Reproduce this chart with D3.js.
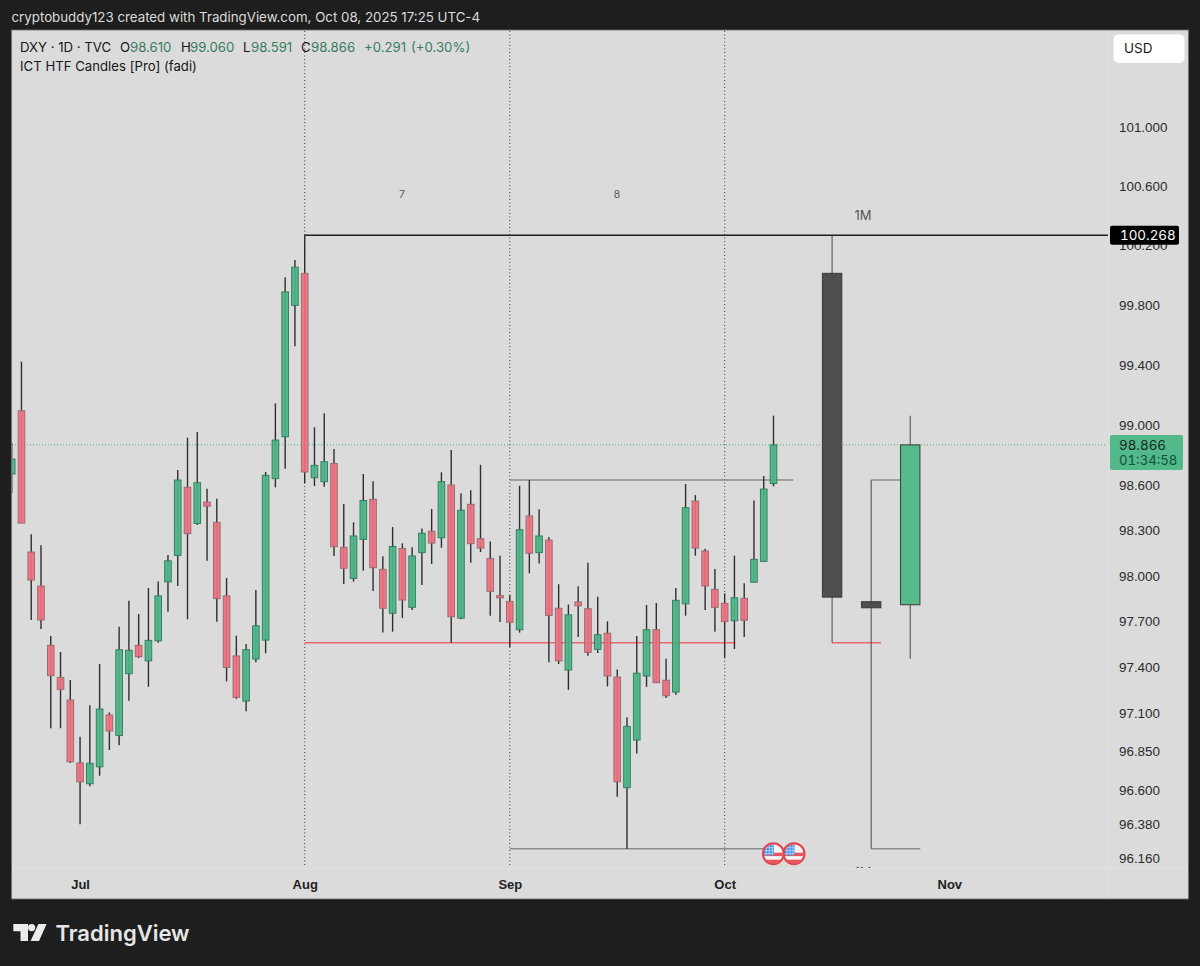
<!DOCTYPE html>
<html>
<head>
<meta charset="utf-8">
<script src="https://cdn.jsdelivr.net/npm/d3@7"></script>
<style>
  html, body { margin: 0; padding: 0; background: #1e1e1e; }
  svg { display: block; font-family: Inter, "Noto Sans", sans-serif; }
  .price-axis text, .price-label { font-variant-numeric: tabular-nums; }
  .price-axis text { font-size: 13.4px; fill: #2b2b2b; }
  .time-axis text { font-size: 13px; font-weight: 600; fill: #222; }
</style>
</head>
<body>
<div id="chart"></div>
<script>
// daily bars, weekdays only, Jun 20 to Oct 8 2025
var dates = [
  "06-20","06-23","06-24","06-25","06-26","06-27","06-30",
  "07-01","07-02","07-03","07-04","07-07","07-08","07-09","07-10","07-11","07-14","07-15","07-16","07-17","07-18","07-21","07-22","07-23","07-24","07-25","07-28","07-29","07-30","07-31",
  "08-01","08-04","08-05","08-06","08-07","08-08","08-11","08-12","08-13","08-14","08-15","08-18","08-19","08-20","08-21","08-22","08-25","08-26","08-27","08-28","08-29",
  "09-01","09-02","09-03","09-04","09-05","09-08","09-09","09-10","09-11","09-12","09-15","09-16","09-17","09-18","09-19","09-22","09-23","09-24","09-25","09-26","09-29","09-30",
  "10-01","10-02","10-03","10-06","10-07","10-08"
]
// empty weekdays on the right, the time axis keeps running
var futureDates = [
  "10-09","10-10","10-13","10-14","10-15","10-16","10-17","10-20","10-21","10-22","10-23","10-24","10-27","10-28","10-29","10-30","10-31","11-03"
]

var opens = [
  98.673,99.093,98.157,97.933,97.544,97.334,97.186,
  96.776,96.641,96.751,97.088,96.954,97.358,97.544,97.442,97.573,97.960,98.135,98.585,98.346,98.487,98.353,97.868,97.474,97.179,97.454,97.578,98.642,98.920,99.797,
  100.012,98.648,98.622,98.743,98.188,97.983,98.241,98.505,98.043,97.754,98.181,97.793,98.153,98.294,98.251,98.600,97.722,98.472,98.245,98.115,97.870,
  97.832,97.646,98.395,98.153,98.236,97.787,97.382,97.828,97.784,97.517,97.623,97.336,96.615,96.925,97.343,97.646,97.315,97.238,97.816,98.494,98.164,97.911,
  97.819,97.705,97.852,97.958,98.095,98.610
]
var highs = [
  98.878,99.420,98.274,98.201,97.605,97.500,97.317,
  96.947,97.152,97.421,97.105,97.666,97.836,97.749,97.920,97.963,98.137,98.699,98.914,98.951,98.575,98.509,97.987,97.607,97.552,97.907,98.686,99.142,99.985,100.101,
  100.268,98.983,99.076,98.838,98.474,98.353,98.673,98.625,98.129,98.322,98.214,98.188,98.313,98.441,98.684,98.832,98.545,98.565,98.734,98.227,98.133,
  97.872,98.595,98.633,98.439,98.256,97.945,97.812,97.931,98.086,97.863,97.701,97.386,97.073,97.605,97.808,97.821,97.456,97.920,98.607,98.533,98.178,98.045,
  97.885,98.133,97.951,98.498,98.660,99.060
]
var lows = [
  98.547,98.348,97.710,97.650,97.002,97.002,96.776,
  96.378,96.624,96.692,96.860,96.891,97.181,97.460,97.272,97.561,97.764,97.933,97.714,98.335,98.099,97.699,97.308,97.193,97.112,97.433,97.492,98.585,98.707,99.524,
  98.611,98.593,98.589,98.131,97.946,97.962,98.034,97.900,97.627,97.633,97.724,97.776,97.940,98.078,98.185,97.561,97.714,98.086,98.157,97.738,97.697,
  97.532,97.627,98.017,98.082,97.433,97.421,97.253,97.598,97.476,97.494,97.275,96.557,96.220,96.838,97.272,97.297,97.199,97.220,97.738,98.133,97.776,97.633,
  97.462,97.519,97.598,97.958,98.095,98.591
]
var closes = [
  98.772,98.348,97.972,97.710,97.345,97.256,96.784,
  96.653,96.774,97.127,96.984,97.515,97.511,97.469,97.576,97.868,98.099,98.633,98.278,98.615,98.460,97.850,97.399,97.204,97.515,97.672,98.664,98.898,99.887,100.053,
  98.686,98.730,98.754,98.192,98.050,98.263,98.498,98.054,97.787,98.194,97.841,98.131,98.281,98.216,98.622,97.731,98.433,98.212,98.183,97.898,97.855,
  97.695,98.304,98.149,98.263,97.740,97.442,97.744,97.803,97.498,97.613,97.343,96.654,97.014,97.361,97.646,97.299,97.214,97.839,98.450,98.183,97.933,97.793,
  97.699,97.856,97.708,98.109,98.573,98.866
]

// monthly candles the indicator projects to the right
var htfDates = ["10-16","10-22","10-28"]
var htfOpens = [100.012, 97.830, 97.810]
var htfHighs = [100.268, 98.633, 99.060]
var htfLows = [97.561, 96.220, 97.455]
var htfCloses = [97.860, 97.790, 98.866]
var htfColors = ["#4a4a4a", "#4a4a4a", "#52b98a"]

var priceTicks = [101, 100.6, 100.2, 99.8, 99.4, 99, 98.6, 98.3, 98, 97.7, 97.4, 97.1, 96.85, 96.6, 96.38, 96.16]
var monthTicks = ["07-01","08-01","09-01","10-01","11-03"]
var monthLabels = ["Jul","Aug","Sep","Oct","Nov"]
var monthLines = ["08-01","09-01","10-01"]

var lastPrice = 98.866
var augHigh = 100.268
var augLow = 97.561
var sepHigh = 98.633
var sepLow = 96.220

var svg = d3.select("#chart").append("svg")
  .attr("width", 1200)
  .attr("height", 966)

// scales
var x = d3.scalePoint()
  .domain(dates.concat(futureDates))
  .range([11.7, 949.3])

var y = d3.scaleLog()
  .domain([101, 96.16])
  .range([127, 858])

// header
svg.append("text")
  .attr("x", 11.5).attr("y", 22)
  .style("font-size", "13.3px")
  .style("fill", "#dcdcdc")
  .text("cryptobuddy123 created with TradingView.com, Oct 08, 2025 17:25 UTC-4")

// panel
svg.append("rect")
  .attr("x", 11.5).attr("y", 30)
  .attr("width", 1177).attr("height", 869)
  .attr("fill", "#dbdbdb")
  .attr("stroke", "#6d6d6d")
  .attr("stroke-width", 0.8)

svg.append("defs").append("clipPath").attr("id", "pane")
  .append("rect")
  .attr("x", 12).attr("y", 31)
  .attr("width", 1096).attr("height", 837.5)

var pane = svg.append("g").attr("clip-path", "url(#pane)")

// faint separators
svg.append("line").attr("x1", 12).attr("x2", 1188).attr("y1", 868.5).attr("y2", 868.5)
  .attr("stroke", "#e2e2e2").attr("stroke-width", 1)
svg.append("line").attr("x1", 1108.5).attr("x2", 1108.5).attr("y1", 31).attr("y2", 898)
  .attr("stroke", "#dfdfdf").attr("stroke-width", 1)

// month dividers
pane.selectAll(".month-line")
  .data(monthLines)
  .enter()
  .append("line")
  .attr("x1", d => x(d)).attr("x2", d => x(d))
  .attr("y1", 31).attr("y2", 867)
  .attr("stroke", "#3d3d3d")
  .attr("stroke-width", 1)
  .attr("stroke-dasharray", "1 2.5")

// current price line
pane.append("line")
  .attr("x1", 12).attr("x2", 1106)
  .attr("y1", y(lastPrice)).attr("y2", y(lastPrice))
  .attr("stroke", "#45ad83")
  .attr("stroke-width", 1)
  .attr("stroke-dasharray", "1 2")

function hline(v, x1, x2, color, w) {
  pane.append("line")
    .attr("x1", x1).attr("x2", x2)
    .attr("y1", y(v)).attr("y2", y(v))
    .attr("stroke", color)
    .attr("stroke-width", w)
}

// levels of the previous months
hline(augLow, x("08-01"), x("10-02") + 1, "#ec6670", 1.5)
hline(augLow, x("10-16"), x("10-22") + 10, "#ec6670", 1.5)
hline(sepHigh, x("09-01"), x("10-10"), "#8a8a8a", 1.4)
hline(sepHigh, x("10-22"), x("10-28"), "#666", 1)
hline(sepLow, x("09-01"), x("10-08"), "#8a8a8a", 1.4)
hline(sepLow, x("10-22"), x("10-28") + 10, "#8a8a8a", 1.4)
hline(augHigh, x("08-01"), 1108, "#1f1f1f", 1.6)

// daily candles
var bars = d3.range(dates.length)

pane.selectAll(".wick")
  .data(bars)
  .enter()
  .append("line")
  .attr("x1", i => x(dates[i])).attr("x2", i => x(dates[i]))
  .attr("y1", i => y(highs[i])).attr("y2", i => y(lows[i]))
  .attr("stroke", "#2e2e2e")
  .attr("stroke-width", 1.4)

pane.selectAll(".body")
  .data(bars)
  .enter()
  .append("rect")
  .attr("x", i => x(dates[i]) - 3.3)
  .attr("width", 6.6)
  .attr("y", i => y(Math.max(opens[i], closes[i])))
  .attr("height", i => Math.abs(y(opens[i]) - y(closes[i])))
  .attr("fill", i => closes[i] >= opens[i] ? "#4cb587" : "#f0707f")
  .attr("fill-opacity", 0.93)
  .attr("stroke", i => closes[i] >= opens[i] ? "#347f60" : "#9a6c72")
  .attr("stroke-width", 1)

// monthly candles
var htf = d3.range(htfDates.length)

pane.selectAll(".htf-wick")
  .data(htf)
  .enter()
  .append("line")
  .attr("x1", i => x(htfDates[i])).attr("x2", i => x(htfDates[i]))
  .attr("y1", i => y(htfHighs[i])).attr("y2", i => y(htfLows[i]))
  .attr("stroke", "#555")
  .attr("stroke-width", 1.1)

pane.selectAll(".htf-body")
  .data(htf)
  .enter()
  .append("rect")
  .attr("x", i => x(htfDates[i]) - 9.7)
  .attr("width", 19.4)
  .attr("y", i => y(Math.max(htfOpens[i], htfCloses[i])))
  .attr("height", i => Math.abs(y(htfOpens[i]) - y(htfCloses[i])))
  .attr("fill", i => htfColors[i])
  .attr("fill-opacity", 0.97)
  .attr("stroke", "#3a3a3a")
  .attr("stroke-width", 1)

// period labels
pane.append("text").attr("x", 402).attr("y", 198).attr("text-anchor", "middle")
  .style("font-size", "10.5px").style("fill", "#5b5b5b").text("7")
pane.append("text").attr("x", 617).attr("y", 198).attr("text-anchor", "middle")
  .style("font-size", "10.5px").style("fill", "#5b5b5b").text("8")
pane.append("text").attr("x", 863).attr("y", 220).attr("text-anchor", "middle")
  .style("font-size", "13px").style("fill", "#555").text("1M")
pane.append("text").attr("x", 863).attr("y", 877).attr("text-anchor", "middle")
  .style("font-size", "13px").style("fill", "#555").text("1M")

// news flags
function flag(cx, cy) {
  var g = pane.append("g").attr("transform", "translate(" + cx + "," + cy + ")")
  var id = "flag" + cx
  g.append("clipPath").attr("id", id).append("circle").attr("r", 9.5)
  var inner = g.append("g").attr("clip-path", "url(#" + id + ")")
  inner.append("rect").attr("x", -11).attr("y", -11).attr("width", 22).attr("height", 22).attr("fill", "#f4f4f4")
  inner.append("rect").attr("x", -11).attr("y", -1).attr("width", 22).attr("height", 3.4).attr("fill", "#e8555c")
  inner.append("rect").attr("x", -11).attr("y", 6).attr("width", 22).attr("height", 5).attr("fill", "#e8555c")
  inner.append("rect").attr("x", -11).attr("y", -11).attr("width", 11.5).attr("height", 12.5).attr("fill", "#3b8ee6")
  // stars read as a light grid at this size
  ;[-7, -4, -1].forEach(function(v) {
    inner.append("line").attr("x1", v).attr("x2", v).attr("y1", -11).attr("y2", 1.5)
      .attr("stroke", "#cfe2f7").attr("stroke-width", 0.7)
  })
  ;[-6, -3, 0].forEach(function(v) {
    inner.append("line").attr("x1", -11).attr("x2", 0.5).attr("y1", v).attr("y2", v)
      .attr("stroke", "#cfe2f7").attr("stroke-width", 0.7)
  })
  g.append("circle").attr("r", 10.5).attr("fill", "none").attr("stroke", "#e4404c").attr("stroke-width", 2)
}
flag(794, 853.7)
flag(773.3, 853.7)

// price axis
svg.append("g")
  .attr("class", "price-axis")
  .attr("transform", "translate(1119,0)")
  .call(d3.axisRight(y).tickValues(priceTicks).tickSize(0).tickPadding(0).tickFormat(d3.format(".3f")))
  .call(g => g.select(".domain").remove())

// time axis
svg.append("g")
  .attr("class", "time-axis")
  .attr("transform", "translate(0,876)")
  .call(d3.axisBottom(x).tickValues(monthTicks).tickSize(0).tickPadding(4)
    .tickFormat((d, i) => monthLabels[i]))
  .call(g => g.select(".domain").remove())

// high label
svg.append("rect")
  .attr("x", 1110).attr("y", y(augHigh) - 9.5)
  .attr("width", 69).attr("height", 19).attr("rx", 2)
  .attr("fill", "#000")
svg.append("text")
  .attr("class", "price-label")
  .attr("x", 1120).attr("y", y(augHigh) + 4.8)
  .style("font-size", "13.4px").style("fill", "#fff")
  .text(d3.format(".3f")(augHigh))

// last price label
svg.append("rect")
  .attr("x", 1110).attr("y", 435)
  .attr("width", 73).attr("height", 35).attr("rx", 2)
  .attr("fill", "#52b98a")
svg.append("text")
  .attr("class", "price-label")
  .attr("x", 1119).attr("y", y(lastPrice) + 4.8)
  .style("font-size", "13.4px").style("fill", "#17291f")
  .text(d3.format(".3f")(lastPrice))
svg.append("text")
  .attr("class", "price-label")
  .attr("x", 1119).attr("y", 465)
  .style("font-size", "13.2px").style("fill", "#0f5238")
  .text("01:34:58")

// currency button
svg.append("rect")
  .attr("x", 1113.5).attr("y", 34.5)
  .attr("width", 71).attr("height", 28.5).attr("rx", 5)
  .attr("fill", "#fff")
svg.append("text")
  .attr("x", 1124).attr("y", 53)
  .style("font-size", "13.5px").style("fill", "#1a1a1a")
  .text("USD")

// legend
var legendParts = [
  ["DXY · 1D · TVC", 20, "#161616"],
  ["O", 120, "#161616"], ["98.610", 130, "#397b5e"],
  ["H", 181, "#161616"], ["99.060", 190, "#397b5e"],
  ["L", 243, "#161616"], ["98.591", 251, "#397b5e"],
  ["C", 301, "#161616"], ["98.866", 311, "#397b5e"],
  ["+0.291", 364, "#397b5e"], ["(+0.30%)", 411, "#397b5e"]
]
svg.selectAll(".legend")
  .data(legendParts)
  .enter()
  .append("text")
  .attr("x", d => d[1]).attr("y", 52)
  .style("font-size", "13.2px")
  .style("fill", d => d[2])
  .text(d => d[0])

svg.append("text")
  .attr("x", 20).attr("y", 71)
  .style("font-size", "13.2px").style("fill", "#161616")
  .text("ICT HTF Candles [Pro] (fadi)")

// footer logo
var logo = svg.append("g").attr("fill", "#ececec")
logo.append("path").attr("d", "M13.3 924H28V941H20.5V931.2H13.3Z")
logo.append("circle").attr("cx", 31.6).attr("cy", 927.6).attr("r", 3.6)
logo.append("path").attr("d", "M38.4 924H46.6L39 941H30.6Z")
svg.append("text")
  .attr("x", 55.5).attr("y", 941)
  .style("font-size", "22px").style("font-weight", 600).style("fill", "#e6e6e6")
  .text("TradingView")
</script>
</body>
</html>
